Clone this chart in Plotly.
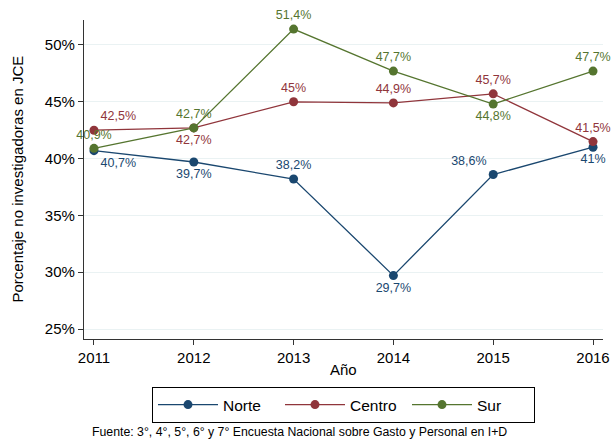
import plotly.graph_objects as go

years = [2011, 2012, 2013, 2014, 2015, 2016]
norte = [40.7, 39.7, 38.2, 29.7, 38.6, 41.0]
centro = [42.5, 42.7, 45.0, 44.9, 45.7, 41.5]
sur = [40.9, 42.7, 51.4, 47.7, 44.8, 47.7]

norte_pos = ["bottom right", "bottom center", "top center", "bottom center", "top left", "bottom center"]
centro_pos = ["top right", "bottom center", "top center", "top center", "top center", "top center"]
sur_pos = ["top center", "top center", "top center", "top center", "bottom center", "top center"]

def fmt(v):
    s = ("%g" % v).replace(".", ",")
    return s + "%"

series = [
    ("Norte", norte, norte_pos, "#1a476f"),
    ("Centro", centro, centro_pos, "#90353b"),
    ("Sur", sur, sur_pos, "#55752f"),
]

FONT = "Liberation Sans, Arial, Helvetica"

fig = go.Figure()
for name, vals, pos, col in series:
    fig.add_trace(go.Scatter(
        x=years, y=vals, name=name, mode="lines+markers+text",
        line=dict(color=col, width=1.3),
        marker=dict(color=col, size=9),
        text=[fmt(v) for v in vals], textposition=pos,
        textfont=dict(color=col, size=12.5, family=FONT),
        cliponaxis=False,
    ))

fig.update_layout(
    width=613, height=439,
    margin=dict(l=84, r=10, t=20, b=100, autoexpand=False),
    plot_bgcolor="white", paper_bgcolor="white",
    font=dict(family=FONT, color="#000000", size=15),
    xaxis=dict(
        range=[2010.9, 2016.1], tickvals=years, showgrid=False,
        showline=True, linecolor="#333333", linewidth=1.2,
        ticks="outside", ticklen=5, tickcolor="#333333",
        tickfont=dict(size=15), zeroline=False, automargin=False,
    ),
    yaxis=dict(
        range=[24.12, 52.2], tickvals=[25, 30, 35, 40, 45, 50],
        ticktext=["25%", "30%", "35%", "40%", "45%", "50%"],
        showgrid=True, gridcolor="#eaf2f3", gridwidth=1,
        showline=True, linecolor="#333333", linewidth=1.2,
        ticks="outside", ticklen=5, tickcolor="#333333",
        tickfont=dict(size=15), zeroline=False, automargin=False,
    ),
    legend=dict(
        orientation="h", x=0.5, xanchor="center", y=-0.207, yanchor="middle",
        bordercolor="#000000", borderwidth=1, font=dict(size=15.5),
        entrywidth=52, itemwidth=60, bgcolor="white",
    ),
    showlegend=True,
)

fig.add_annotation(
    text="Año", xref="paper", yref="paper", x=0.5, xanchor="center",
    y=-0.097, yanchor="middle", showarrow=False, font=dict(size=15, family=FONT),
)
fig.add_annotation(
    text="Porcentaje no investigadoras en JCE", xref="paper", yref="paper",
    x=-0.129, xanchor="center", y=0.5, yanchor="middle", textangle=-90,
    showarrow=False, font=dict(size=15, family=FONT),
)
fig.add_annotation(
    text="Fuente: 3°, 4°, 5°, 6° y 7° Encuesta Nacional sobre Gasto y Personal en I+D",
    xref="paper", yref="paper", x=0.416, xanchor="center",
    y=-0.29, yanchor="middle", showarrow=False,
    font=dict(size=12.3, family=FONT),
)

fig.write_html("out.html", config={"displayModeBar": False},
               post_script="document.body.style.margin='0';document.body.style.overflow='hidden';")
